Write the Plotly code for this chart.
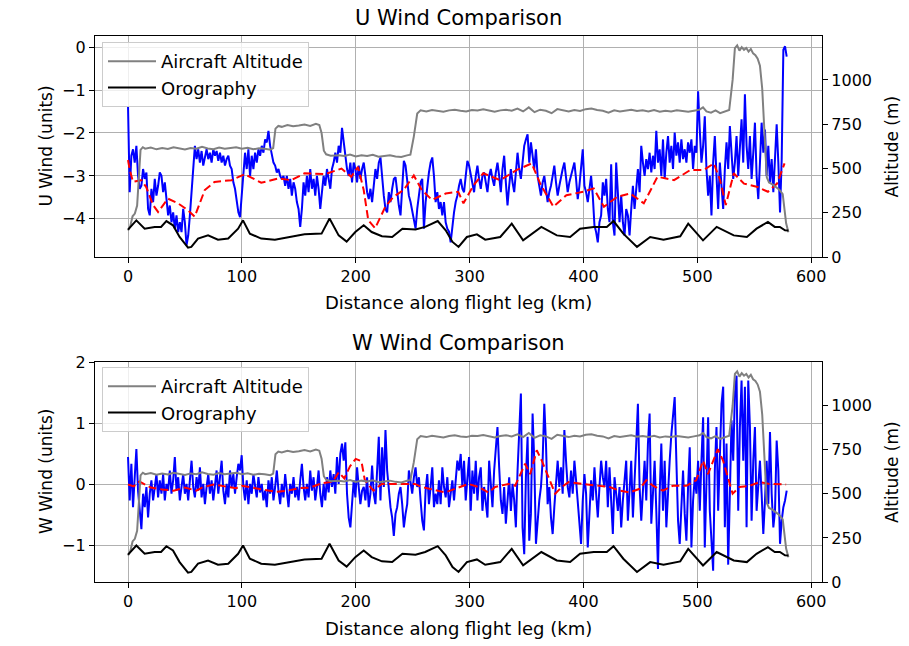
import numpy as np
import plotly.graph_objects as go

# ---------------- data ----------------
# aircraft observations, evenly sampled along the leg (0 .. obs_end_km)
obs_end_km = 578.5

u_obs = [
    -1.37, -3.38, -2.53, -2.38, -2.69, -2.30, -3.00, -3.30, -3.23, -2.84,
    -3.07, -2.92, -3.77, -3.92, -3.30, -3.61, -3.07, -3.46, -3.23, -2.92,
    -3.00, -3.38, -3.15, -3.61, -3.92, -3.69, -4.08, -3.85, -4.23, -3.92,
    -4.31, -4.08, -4.31, -3.77, -4.08, -4.62, -4.39, -3.92, -3.38, -3.00,
    -2.30, -2.61, -2.38, -2.69, -2.42, -2.76, -2.53, -2.38, -2.61, -2.46,
    -2.69, -2.38, -2.53, -2.42, -2.65, -2.46, -2.69, -2.53, -2.76, -2.61,
    -2.53, -2.76, -2.84, -3.15, -3.30, -3.61, -3.85, -3.96, -3.46, -2.84,
    -2.46, -2.84, -2.38, -3.00, -2.53, -2.84, -2.46, -2.69, -2.38, -2.53,
    -2.30, -2.46, -2.15, -2.22, -1.95, -2.30, -2.46, -2.69, -2.76, -2.92,
    -2.84, -3.00, -3.07, -3.00, -3.23, -3.00, -3.30, -3.07, -3.46, -3.15,
    -3.30, -3.61, -3.77, -4.19, -3.77, -3.15, -3.46, -3.00, -3.38, -2.84,
    -3.30, -3.07, -3.46, -3.00, -3.30, -3.77, -3.38, -3.00, -3.23, -2.84,
    -3.07, -3.30, -2.84, -2.69, -2.46, -2.69, -2.30, -2.46, -1.88, -2.22,
    -2.53, -2.84, -3.00, -2.69, -3.15, -2.69, -2.84, -3.15, -2.76, -3.07,
    -2.84,
    -2.69, -3.00, -3.38, -3.54, -3.30, -3.61, -3.15, -2.84, -3.07, -2.69,
    -2.57, -3.07, -3.46, -3.77, -3.85, -3.38, -3.61, -3.30, -3.07, -3.03,
    -3.38, -3.69, -3.92, -3.23, -2.65, -2.76, -3.15, -3.46, -3.61, -3.85,
    -4.08, -4.23, -3.77, -3.38, -3.15, -3.07, -4.23, -3.61, -3.23, -2.92,
    -2.69, -2.57, -3.00, -3.61, -3.38, -3.77, -3.61, -3.92, -3.61, -4.08,
    -4.23, -4.30, -4.55, -4.15, -3.85, -3.61, -3.46, -3.23, -3.07, -3.30,
    -3.38, -3.00, -2.65, -2.76, -3.00, -3.15, -3.38, -3.00, -2.76, -3.07,
    -3.30, -3.00, -2.92, -3.15, -3.38, -3.00, -2.84, -3.07, -3.23, -2.92,
    -2.69, -3.00, -3.38, -2.84, -2.53, -3.15, -3.69, -3.23, -2.84, -3.15,
    -3.38, -2.92, -2.46, -2.84, -3.07, -2.69, -2.30, -2.15, -2.03, -2.69,
    -2.22, -2.53, -2.84, -2.38, -3.00, -3.23, -3.46, -3.15, -3.00, -3.30,
    -3.61, -3.38, -3.23, -3.00, -2.76, -3.15, -3.46, -3.23, -3.00, -2.84,
    -2.69, -3.07, -3.38, -3.15, -3.00, -2.84, -2.69, -3.07, -3.54, -3.23,
    -2.84, -2.38, -3.23, -3.38, -3.61, -3.30, -3.00, -3.46, -4.15, -4.31,
    -4.55, -4.08, -3.92, -3.15,
    -3.46, -3.07, -3.77, -4.08, -2.73, -4.08, -4.39, -2.69, -3.38, -4.08,
    -3.46, -4.08, -4.39, -3.77, -3.92, -4.39, -3.77, -3.23, -3.77, -3.30,
    -2.84, -3.38, -2.30, -2.69, -3.00, -2.61, -2.84, -2.46, -2.92, -2.53,
    -2.84, -1.95, -2.69, -2.38, -3.00, -2.15, -3.07, -2.46, -2.07, -2.69,
    -2.30, -2.84, -1.99, -2.53, -2.22, -2.69, -2.15, -2.61, -2.38, -2.69,
    -2.22, -2.46, -2.15, -2.84, -2.30, -2.46, -1.03, -1.92, -2.69, -2.30,
    -1.61, -2.84, -3.46, -3.00, -3.92, -2.69, -2.07, -3.00, -3.77, -2.69,
    -3.23, -3.77, -2.84, -2.22, -2.84, -1.84, -2.46, -3.07, -2.69, -2.07,
    -3.00, -2.46, -1.68, -2.69, -1.10, -2.30, -2.84, -2.07, -3.07, -2.46,
    -1.76, -3.00, -3.54, -2.69, -1.76, -2.46, -1.92, -3.00, -2.30, -3.15,
    -2.61, -3.38, -2.69, -1.80, -2.69, -3.85, -2.61, -0.06, 0.02, -0.22,
]

w_obs = [
    0.45, -0.26, 0.34, -0.37, 0.12, 0.58, -0.10, -0.48, -0.73, -0.15,
    -0.37, -0.04, -0.54, -0.15, 0.07, -0.26, -0.04, 0.17, -0.21, 0.07,
    -0.15, 0.17, -0.26, 0.01, -0.10, 0.23, -0.15, 0.07, 0.45, -0.10,
    0.12, -0.26, -0.04, 0.17, -0.15, 0.01, -0.26, 0.07, 0.39, -0.04,
    -0.21, 0.12, -0.10, 0.28, -0.21, 0.01, -0.32, -0.04, 0.17, -0.15,
    0.07, -0.26, -0.04, 0.23, -0.15, 0.12, 0.39, -0.10, -0.32, 0.01,
    -0.21, 0.23, -0.04, 0.17, -0.15, 0.12, 0.34, 0.23, 0.48, -0.04,
    -0.26, 0.07, -0.32, 0.01, -0.15, 0.17, -0.04, -0.21, 0.12, -0.13,
    0.01, -0.26, -0.10, -0.37, 0.07, -0.15, 0.12, -0.26, -0.04, 0.23,
    -0.10, -0.32, 0.01, -0.21, 0.17, -0.10, -0.37, 0.01, -0.15, 0.12,
    -0.21, -0.04, -0.26, 0.07, 0.34, -0.04, -0.26, 0.01, -0.21, 0.23,
    -0.10, 0.12, -0.26, -0.04, 0.23, -0.15, -0.37, 0.01, -0.26, 0.12,
    -0.13, 0.23, -0.04, 0.17, -0.15, 0.45, 0.01, 0.50, 0.67, 0.39,
    0.69, -0.15, -0.54, -0.70, -0.37, 0.07, -0.21, 0.28, -0.04, -0.32,
    -0.10,
    -0.04, -0.26, 0.12, -0.37, -0.15, 0.31, -0.15, -0.32, 0.23, 0.78,
    -0.26, 0.61, -0.04, 0.89, 0.23, -0.15, -0.37, -0.54, -0.84, -0.48,
    -0.37, -0.15, -0.04, -0.32, -0.70, -0.48, -0.32, 0.23, 0.01, -0.15,
    0.12, 0.28, -0.04, 0.12, -0.26, -0.59, -0.75, -0.10, 0.17, -0.32,
    -0.04, 0.28, -0.37, -0.15, -0.32, 0.07, -0.32, 0.28, -0.04, -0.21,
    0.12, -0.37, -0.15, 0.07, -0.26, 0.12, 0.39, 0.23, 0.50, -0.04,
    0.39, -0.26, 0.12, 0.45, -0.43, 0.23, -0.15, 0.39, -0.26, 0.12,
    0.28, -0.43, -0.04, -0.26, -0.54, 0.39, -0.04, -0.37, 0.23, 0.56,
    0.94, 0.28, -0.26, -0.48, -0.04, -0.64, -0.26, 0.12, -0.43, 0.01,
    -0.26, -0.70, 0.23, 0.94, 1.49, -0.70, -1.14, 0.12, 0.78, -0.92,
    -0.48, 1.16, 0.39, -0.97, -0.59, -0.26, -0.04, 0.39, 1.32, 0.67,
    -0.32, -0.04, -0.54, -0.81, -0.37, 0.12, 0.39, -0.04, 0.28, -0.15,
    0.89, 0.39, -0.04, -0.21, 0.23, -0.15, 0.39, 0.07, -0.26, -0.59,
    -0.97, -0.26, 0.17, -0.15, -1.03, -0.48, 0.07, -0.26, 0.28, -0.15,
    -0.54, -0.04, 0.39, 0.12,
    -0.04, 0.39, -0.37, 0.28, -0.26, -0.81, 0.12, -0.15, -0.43, -0.04,
    -0.70, -0.26, 0.12, 0.39, -0.59, -0.15, 0.39, -0.54, -0.04, 0.67,
    1.32, -0.04, -0.59, -0.15, 0.39, -0.26, 0.67, 1.16, -0.64, -0.15,
    0.39, -0.43, -1.38, -0.15, 0.67, -0.43, 0.39, -0.70, -0.04, 0.39,
    0.82, 1.21, 1.43, 0.39, -0.59, -0.97, -0.26, 0.23, -0.48, -0.92,
    -0.04, 0.61, -1.03, -0.26, 0.12, -0.15, 0.39, -0.43, 0.39, 1.10,
    -1.03, -0.15, 1.10, -0.43, -1.03, -1.41, 0.23, 0.94, -0.43, 0.67,
    1.32, 1.60, -0.70, 0.67, -1.31, -0.15, 1.05, 0.39, 1.49, 1.78,
    -0.43, 0.94, 1.70, 0.39, 1.60, -0.70, 1.70, 0.94, -0.59, 0.39,
    0.94, -0.43, -0.04, 0.39, -0.15, -0.81, -0.26, 0.39, -0.32, 0.86,
    -0.15, -0.70, -0.43, 0.72, 0.23, -0.97, -0.59, -0.37, -0.26, -0.10,
]

# model winds
model_u_km = [0, 1.5, 4.4, 11.7, 16, 22, 26.4, 35, 44, 52.7,
              58.6, 67.4, 76, 91, 102.5, 117, 132, 143.5, 155, 173,
              187.5, 196, 202, 207, 211, 217, 226, 233, 242, 251,
              258, 267, 279, 290, 294.6, 303.4, 312, 327, 341.5, 354.5,
              362, 373.6, 385, 400, 409, 418, 429.5, 441, 453, 465,
              479.5, 494, 505.8, 514.5, 520, 525, 532, 541, 553, 562,
              570, 576.6]
model_u = [-2.63, -2.86, -3.14, -3.10, -3.26, -3.68, -3.84, -3.53, -3.64, -3.80,
           -3.95, -3.33, -3.14, -3.10, -2.96, -3.16, -3.06, -3.10, -2.94, -2.96,
           -2.83, -3.02, -2.79, -3.33, -4.03, -4.22, -3.72, -3.49, -3.33, -2.99,
           -3.33, -3.56, -3.41, -3.37, -3.64, -3.22, -2.94, -3.10, -2.86, -2.71,
           -3.18, -3.72, -3.45, -3.37, -3.29, -3.72, -3.49, -3.41, -3.64, -3.02,
           -3.10, -2.86, -2.86, -2.71, -3.10, -3.68, -2.94, -3.18, -3.26, -3.37,
           -3.18, -2.71]

model_w_km = [0, 5, 10, 15, 20, 30, 40, 50, 60, 65,
              75, 85, 95, 100, 110, 120, 130, 140, 150, 160,
              170, 180, 185, 190, 195, 200, 205, 208, 215.5, 222.8,
              237.5, 252, 258, 278.5, 287.3, 299, 307.8, 316.6, 322.4, 334,
              340, 345.9, 348.8, 353.2, 359, 363.4, 369.3, 375.2, 381, 386.9,
              398.6, 411, 423, 431.8, 440.5, 449.3, 455.2, 461, 469.8, 478.6,
              490.3, 499, 505, 509.4, 513.8, 518, 522.6, 527, 531, 537,
              546, 554.8, 563.6, 578]
model_w = [0.0, -0.03, 0.05, 0.0, -0.05, -0.08, -0.10, -0.05, -0.10, -0.05,
           0.0, -0.03, -0.06, -0.02, -0.05, -0.08, -0.12, -0.10, -0.06, -0.05,
           0.02, 0.05, 0.20, 0.10, 0.30, 0.42, 0.38, 0.07, -0.10, 0.01,
           0.01, 0.01, -0.04, -0.13, -0.07, 0.01, -0.04, -0.13, -0.04, 0.01,
           -0.02, 0.23, 0.34, 0.17, 0.56, 0.39, 0.12, -0.15, -0.04, 0.04,
           0.01, -0.02, -0.04, -0.10, -0.13, -0.07, 0.07, -0.02, -0.10, -0.02,
           -0.02, 0.07, 0.39, 0.17, 0.39, 0.58, 0.39, 0.12, -0.15, -0.04,
           -0.02, 0.04, 0.01, 0.0]

# aircraft altitude (m)
alt_km = [0, 2, 4, 6, 8, 9.5, 11, 13, 15, 20, 25, 30, 35, 40, 45, 50, 55, 60,
          65, 70, 75, 80, 85, 90, 95, 100, 105, 110, 115, 120, 125, 127.5,
          129.5, 132, 135, 140, 145, 150, 155, 160, 165, 168, 170, 172, 174,
          178, 185, 190, 195, 200, 205, 210, 215, 220, 225, 230, 235, 240,
          245, 248, 251, 254, 257, 262, 267, 272, 277, 282, 287, 292, 297,
          302, 307, 312, 317, 322, 327, 332, 337, 342, 347, 352, 357, 362,
          367, 372, 377, 382, 387, 392, 397, 402, 407, 412, 417, 422, 427,
          432, 437, 442, 447, 452, 457, 462, 467, 472, 477, 482, 487, 492,
          497, 502, 505, 508, 512, 516, 520, 524, 528, 531, 533, 535, 537,
          539, 541, 543, 545, 547, 549, 551, 553, 555, 557, 559, 561, 563,
          566, 569, 572, 575, 578, 580]
aircraft_alt = [150, 175, 230, 245, 290, 450, 605, 620, 612, 618, 608, 615,
                610, 620, 612, 607, 616, 611, 622, 613, 609, 618, 612, 615,
                620, 612, 617, 608, 614, 611, 606, 615, 725, 740, 735, 745,
                738, 742, 748, 740, 752, 745, 700, 600, 580, 572, 575, 570,
                578, 568, 575, 570, 577, 566, 572, 575, 568, 565, 574, 578,
                680, 810, 828, 822, 830, 825, 820, 828, 832, 826, 822, 830,
                828, 834, 825, 820, 828, 832, 826, 838, 822, 845, 818, 832,
                826, 812, 835, 828, 822, 830, 825, 835, 838, 830, 826, 815,
                828, 822, 826, 832, 824, 828, 822, 830, 820, 826, 822, 828,
                824, 820, 826, 832, 845, 822, 815, 828, 812, 820, 830, 1000,
                1180, 1195, 1165, 1185, 1170, 1180, 1160, 1175, 1150, 1140,
                1120, 1080, 950, 700, 450, 420, 410, 395, 380, 355, 190, 140]

# orography (m)
oro_km = [0, 7.3, 14.6, 23.4, 29, 33.7, 39.5, 45.3, 52.7, 55.6,
          61.5, 70.3, 79, 88, 96.7, 101, 107, 117, 129, 143.5,
          155, 170, 177, 185, 192, 199.6, 207, 214, 223, 232,
          241, 252.5, 261, 272, 279, 285, 290.3, 297.6, 306.4, 313.7,
          326.9, 337, 347, 363, 376.6, 388.3, 397, 409, 420.5, 426.4,
          435, 447, 458.6, 470.3, 485, 492, 505, 517, 532, 543.5,
          552, 562, 568, 572.5, 577, 580]
orography = [155, 207, 160, 170, 170, 203, 179, 113, 53, 57,
             104, 122, 98, 104, 160, 207, 132, 104, 98, 113,
             128, 132, 217, 122, 87, 141, 179, 141, 117, 113,
             160, 155, 170, 203, 151, 85, 57, 113, 128, 98,
             113, 188, 94, 170, 122, 113, 160, 170, 170, 203,
             132, 57, 113, 98, 117, 188, 94, 170, 122, 113,
             160, 198, 170, 170, 151, 150]

obs_km = np.linspace(0, obs_end_km, len(u_obs))

FONT = "DejaVu Sans"
W, H = 909, 646


def px_x(x):
    return x / W


def px_y(y):
    return 1 - y / H


fig = go.Figure()

panels = [
    ("x", "y", "y2", u_obs, model_u_km, model_u, "legend"),
    ("x2", "y3", "y4", w_obs, model_w_km, model_w, "legend2"),
]
for xa, ya, ya_alt, obs, mkm, mval, leg in panels:
    fig.add_trace(go.Scatter(x=obs_km, y=obs, mode="lines", xaxis=xa, yaxis=ya,
                             line=dict(color="blue", width=2), showlegend=False))
    fig.add_trace(go.Scatter(x=mkm, y=mval, mode="lines", xaxis=xa, yaxis=ya,
                             line=dict(color="red", width=2, dash="8px,4px"),
                             showlegend=False))
    fig.add_trace(go.Scatter(x=alt_km, y=aircraft_alt, mode="lines", xaxis=xa,
                             yaxis=ya_alt, name="Aircraft Altitude", legend=leg,
                             line=dict(color="gray", width=2)))
    fig.add_trace(go.Scatter(x=oro_km, y=orography, mode="lines", xaxis=xa,
                             yaxis=ya_alt, name="Orography", legend=leg,
                             line=dict(color="black", width=2)))

x_dom = [px_x(95), px_x(822)]
top_dom = [px_y(257), px_y(36)]
bot_dom = [px_y(582), px_y(362)]

axis_common = dict(
    showline=True, linecolor="black", linewidth=1.2, mirror=True,
    ticks="outside", ticklen=5, tickcolor="black", tickwidth=1.2,
    tickfont=dict(family=FONT, size=16, color="black"),
    zeroline=False, automargin=False,
)
xcommon = dict(axis_common, range=[-29, 609.5], tickvals=[0, 100, 200, 300, 400, 500, 600],
               showgrid=True, gridcolor="#b0b0b0", gridwidth=1, domain=x_dom)
alt_common = dict(axis_common, range=[0, 1248], tickvals=[0, 250, 500, 750, 1000],
                  showgrid=False, side="right", mirror=False)
legend_style = dict(xanchor="left", yanchor="top", bgcolor="rgba(255,255,255,0.8)",
                    bordercolor="#cccccc", borderwidth=1, tracegroupgap=0,
                    itemwidth=48, font=dict(family=FONT, size=18))

fig.update_layout(
    width=W, height=H,
    margin=dict(l=0, r=0, t=0, b=0, autoexpand=False),
    paper_bgcolor="white", plot_bgcolor="white",
    font=dict(family=FONT, color="black"),
    xaxis=dict(xcommon, anchor="y"),
    yaxis=dict(axis_common, domain=top_dom, range=[-4.89, 0.26], dtick=1,
               showgrid=True, gridcolor="#b0b0b0", gridwidth=1),
    yaxis2=dict(alt_common, overlaying="y", anchor="x"),
    xaxis2=dict(xcommon, anchor="y3"),
    yaxis3=dict(axis_common, domain=bot_dom, range=[-1.594, 2.004], dtick=1,
                showgrid=True, gridcolor="#b0b0b0", gridwidth=1),
    yaxis4=dict(alt_common, overlaying="y3", anchor="x2"),
    legend=dict(legend_style, x=px_x(102), y=px_y(42)),
    legend2=dict(legend_style, x=px_x(102), y=px_y(367)),
)

xc = (x_dom[0] + x_dom[1]) / 2
labels = [
    ("U Wind Comparison", xc, px_y(18), 0, 21),
    ("W Wind Comparison", xc, px_y(343), 0, 21),
    ("Distance along flight leg (km)", xc, px_y(302), 0, 18),
    ("Distance along flight leg (km)", xc, px_y(628), 0, 18),
    ("U Wind (units)", px_x(46), sum(top_dom) / 2, -90, 17),
    ("W Wind (units)", px_x(46), sum(bot_dom) / 2, -90, 17),
    ("Altitude (m)", px_x(892), sum(top_dom) / 2, -90, 17),
    ("Altitude (m)", px_x(892), sum(bot_dom) / 2, -90, 17),
]
for text, x, y, angle, size in labels:
    fig.add_annotation(text=text, x=x, y=y, xref="paper", yref="paper",
                       showarrow=False, textangle=angle,
                       xanchor="center", yanchor="middle",
                       font=dict(family=FONT, size=size, color="black"))

# drop the default body margin so the figure sits at the page corner
fig.write_html("out.html", config={"displayModeBar": False},
               post_script="document.body.style.margin = '0px';")
